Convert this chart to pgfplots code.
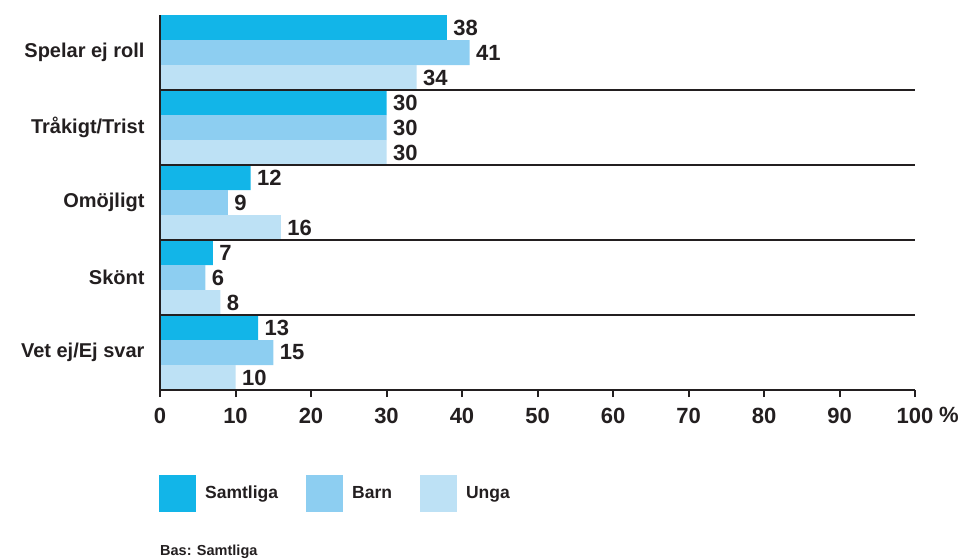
\documentclass[border=0pt]{standalone}
\usepackage{fontspec}
\setmainfont{Liberation Sans}
\usepackage{pgfplots}
\pgfplotsset{compat=1.18}
\definecolor{cA}{HTML}{12B5E8}
\definecolor{cB}{HTML}{8DCEF1}
\definecolor{cC}{HTML}{BDE1F5}
\definecolor{ink}{HTML}{231F20}
\newcommand\lab{\fontsize{20}{23}\selectfont\bfseries}
\newcommand\numf{\fontsize{22}{25}\selectfont\bfseries}
\newcommand\legf{\fontsize{17.5}{20}\selectfont\bfseries}
\newcommand\basf{\fontsize{14.5}{16}\selectfont\bfseries}
\begin{document}
\begin{tikzpicture}[x=1pt,y=1pt]
\begin{axis}[
  at={(160pt,-390pt)}, anchor=south west,
  width=755pt, height=375pt, scale only axis,
  xmin=0, xmax=100, ymin=0, ymax=15,
  axis x line*=bottom, axis y line*=left,
  axis line style={-, line width=2pt, ink},
  axis on top,
  /pgf/number format/assume math mode=true,
  xtick={0,10,...,100},
  tick align=outside,
  x tick style={ink, line width=2pt},
  major tick length=7pt,
  xticklabel style={font=\numf, text=ink, yshift=-8pt},
  ytick={1.5,4.5,7.5,10.5,13.5},
  yticklabels={Vet ej/Ej svar, Skönt, Omöjligt, Tråkigt/Trist, Spelar ej roll},
  y tick style={draw=none},
  yticklabel style={font=\lab, text=ink, anchor=east, xshift=-5pt},
  extra y ticks={3,6,9,12},
  extra y tick labels={},
  extra y tick style={grid=major, major grid style={ink, line width=1.3pt}, y tick style={draw=none}},
  legend style={at={(0,0)}, anchor=west, yshift=-103pt, xshift=-1pt,
    legend columns=3, draw=none, fill=none, inner sep=0pt, font=\legf, text=ink,
    nodes={inner sep=0pt},
    /tikz/every odd column/.append style={column sep=9pt},
    /tikz/every even column/.append style={column sep=28pt},
    legend cell align=left},
  every node near coord/.append style={font=\numf, text=ink, anchor=west, xshift=3pt},
]
\addplot[xbar, bar width=25pt, bar shift=0pt, fill=cA, draw=none, nodes near coords,
  legend image code/.code={\fill[cA] (0pt,-18.5pt) rectangle (37pt,18.5pt);}]
  coordinates {(38,14.5) (30,11.5) (12,8.5) (7,5.5) (13,2.5)};
\addplot[xbar, bar width=25pt, bar shift=0pt, fill=cB, draw=none, nodes near coords,
  legend image code/.code={\fill[cB] (0pt,-18.5pt) rectangle (37pt,18.5pt);}]
  coordinates {(41,13.5) (30,10.5) (9,7.5) (6,4.5) (15,1.5)};
\addplot[xbar, bar width=25pt, bar shift=0pt, fill=cC, draw=none, nodes near coords,
  legend image code/.code={\fill[cC] (0pt,-18.5pt) rectangle (37pt,18.5pt);}]
  coordinates {(34,12.5) (30,9.5) (16,6.5) (8,3.5) (10,0.5)};
\legend{Samtliga, Barn, Unga}
\end{axis}
\node[font=\numf, text=ink, anchor=west, inner sep=0pt] at (939pt,-415pt) {\%};
\node[font=\basf, text=ink, anchor=west, inner sep=0pt] at (160pt,-552pt) {Bas: Samtliga};
\pgfresetboundingbox
\path[use as bounding box] (0,0) rectangle (958pt,-559pt);
\end{tikzpicture}
\end{document}
